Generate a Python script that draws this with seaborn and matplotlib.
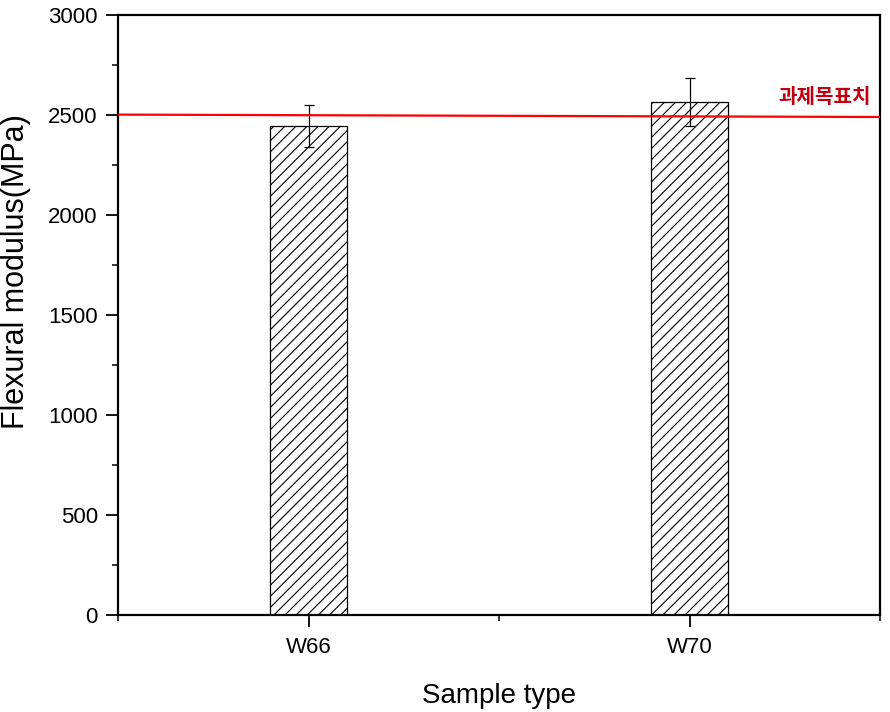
import matplotlib
matplotlib.use("Agg")
import matplotlib.pyplot as plt
import seaborn as sns
import pandas as pd
import numpy as np
from matplotlib.ticker import MultipleLocator, FixedLocator

categories = ["W66", "W70"]
modulus = [2445, 2565]
errors = [105, 120]
target_label = "과제목표치"
target_values = [2502, 2490]  # left, right end of target line

sns.set_style("ticks")
plt.rcParams['font.family'] = ['Liberation Sans', 'Noto Sans CJK KR', 'DejaVu Sans']
plt.rcParams['hatch.linewidth'] = 0.8
plt.rcParams['hatch.color'] = '#333333'
plt.rcParams['axes.labelcolor'] = 'black'
plt.rcParams['text.color'] = 'black'

df = pd.DataFrame({"Sample": categories, "Modulus": modulus})

fig = plt.figure(figsize=(8.9, 7.12), dpi=100)
ax = fig.add_axes([118/890, 97/712, 762/890, 600/712])

sns.barplot(data=df, x="Sample", y="Modulus", ax=ax, color="white",
            edgecolor="black", linewidth=0.9, width=0.2, errorbar=None)
for p in ax.patches:
    p.set_hatch("///")
    p.set_facecolor("white")
    p.set_edgecolor("black")

ax.errorbar(range(len(categories)), modulus, yerr=errors, fmt="none",
            ecolor="black", elinewidth=0.9, capsize=3.8, capthick=0.9)

ax.plot([-0.5, 1.5], target_values, color="#ff0000", lw=1.6, zorder=5)
ax.text(1.476, 2538, target_label, color="#c00010", fontsize=14.5,
        fontweight="bold", ha="right", va="bottom",
        family=['Noto Sans CJK KR', 'DejaVu Sans'])

ax.set_xlim(-0.5, 1.5)
ax.set_ylim(0, 3000)
ax.yaxis.set_major_locator(MultipleLocator(500))
ax.yaxis.set_minor_locator(MultipleLocator(250))
ax.xaxis.set_minor_locator(FixedLocator([-0.5, 0.5, 1.5]))

for s in ax.spines.values():
    s.set_linewidth(1.6)
    s.set_color("black")
    s.set_visible(True)

ax.tick_params(axis="both", which="major", direction="out", length=8.5, width=1.3,
               labelsize=16, colors="black", pad=6)
ax.tick_params(axis="both", which="minor", direction="out", length=4.5, width=1.3)
ax.tick_params(axis="x", which="major", pad=7)

ax.set_xlabel("Sample type", fontsize=20, labelpad=18, color="black")
ax.set_ylabel("Flexural modulus(MPa)", fontsize=22, color="black")
ax.yaxis.set_label_coords(-0.114, 0.573)

fig.savefig("out.png", dpi=100)
